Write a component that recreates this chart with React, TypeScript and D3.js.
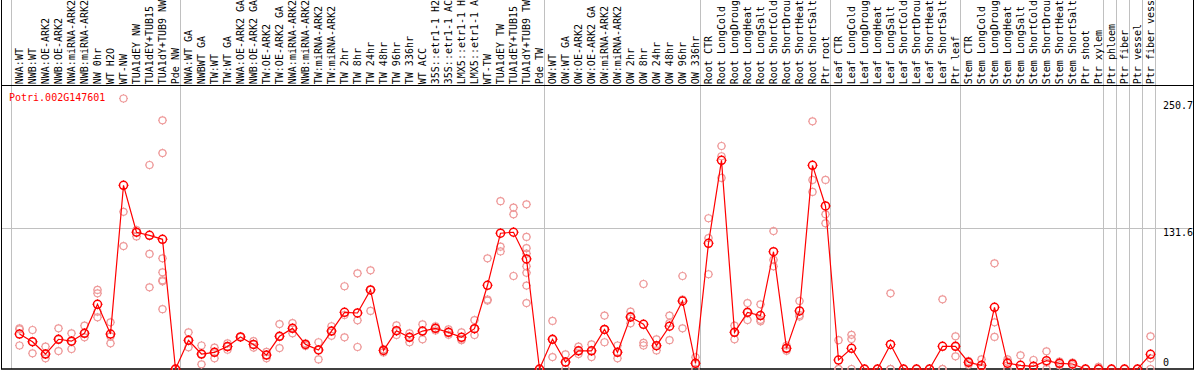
import React from 'react';
import * as d3 from 'd3';

// column labels, left to right (as far as the header shows them)
const labels = [
  'NWA:WT', 'NWB:WT', 'NWA:OE-ARK2', 'NWB:OE-ARK2', 'NWA:miRNA-ARK2', 'NWB:miRNA-ARK2',
  'NW 0hr', 'WT H2O', 'WT-NW', 'TUA1dEY NW', 'TUA1dEY+TUB15 NW', 'TUA1dY+TUB9 NW', 'Pde NW',
  'NWA:WT GA', 'NWBWT GA', 'TW:WT', 'TW:WT GA', 'NWA:OE-ARK2 GA', 'NWB:OE-ARK2 GA',
  'TW:OE-ARK2', 'TW:OE-ARK2 GA', 'NWA:miRNA-ARK2 GA', 'NWB:miRNA-ARK2 GA', 'TW:miRNA-ARK2',
  'TW:miRNA-ARK2 GA', 'TW 2hr', 'TW 8hr', 'TW 24hr', 'TW 48hr', 'TW 96hr', 'TW 336hr', 'WT ACC',
  '35S::etr1-1 H2O', '35S::etr1-1 ACC', 'LMX5::etr1-1 H2O', 'LMX5::etr1-1 ACC', 'WT-TW',
  'TUA1dEY TW', 'TUA1dEY+TUB15 TW', 'TUA1dY+TUB9 TW', 'Pde TW',
  'OW:WT', 'OW:WT GA', 'OW:OE-ARK2', 'OW:OE-ARK2 GA', 'OW:miRNA-ARK2', 'OW:miRNA-ARK2 GA',
  'OW 2hr', 'OW 8hr', 'OW 24hr', 'OW 48hr', 'OW 96hr', 'OW 336hr',
  'Root CTR', 'Root LongCold', 'Root LongDrought', 'Root LongHeat', 'Root LongSalt',
  'Root ShortCold', 'Root ShortDrought', 'Root ShortHeat', 'Root ShortSalt', 'Ptr root',
  'Leaf CTR', 'Leaf LongCold', 'Leaf LongDrought', 'Leaf LongHeat', 'Leaf LongSalt',
  'Leaf ShortCold', 'Leaf ShortDrought', 'Leaf ShortHeat', 'Leaf ShortSalt', 'Ptr leaf',
  'Stem CTR', 'Stem LongCold', 'Stem LongDrought', 'Stem LongHeat', 'Stem LongSalt',
  'Stem ShortCold', 'Stem ShortDrought', 'Stem ShortHeat', 'Stem ShortSalt', 'Ptr shoot', 'Ptr xylem',
  'Ptr phloem', 'Ptr fiber', 'Ptr vessel', 'Ptr fiber vessel',
];

// first column index of each group (a grey line is drawn before it)
const groupStarts = [0, 13, 41, 53, 63, 73, 84, 85, 86, 87, 88];

const means = [
  32.7, 25.5, 14, 27.8, 26, 33.4, 60.5, 32.7, 171.8, 127.9, 125, 121.3, 0,
  26.8, 14, 15.6, 21, 30, 23, 13, 30.6, 38, 23, 17.8, 35.5, 53, 52.4, 74, 17.4, 35.8,
  29.6, 35.5, 38, 34.3, 29.6, 37.7, 78.3, 127, 127.9, 103, 0,
  27.8, 6.5, 17, 17, 37, 15.6, 48.6, 41.8, 21.8, 40, 63.6, 5.3,
  117.6, 195.2, 34.3, 53, 50, 109.7, 19.3, 54.3, 190.5, 152.5,
  8.4, 19.3, 0, 0, 23, 0, 0, 0, 21.2, 21.2,
  6.2, 3.4, 57.7, 5.3, 3.4, 2.5, 7.8, 5.3, 4.7, 0, 0,
  0, 0, 0, 13.7,
];

const replicates = [
  [38, 37, 22], [36.5, 25.5, 14.7], [21, 14, 10], [38, 27.8, 16.8], [33.4, 26, 18.7],
  [40.5, 33.4, 29.6], [74, 70.8, 53.6, 48.3], [43.7, 30.5, 24], [253, 147, 115], [130, 124, 128],
  [190.8, 107.6, 76.4], [232.6, 202, 103.5, 90.4, 83, 82, 56], [0, 0],
  [34.3, 26.8, 20.3], [22, 14, 4.4], [20, 15.6, 10], [24, 21, 18], [30, 30, 30], [26, 23, 20],
  [16, 13, 10], [42, 30.6, 19.6], [43, 38, 33.4], [24, 23, 21.5], [25, 17.8, 9], [40, 35.5, 31],
  [77.4, 50.5, 29.6], [89.5, 45.5, 20.6], [92.3, 74, 54.3], [18.5, 17.4, 15.5], [40.8, 35.8, 31.8],
  [33.4, 29.6, 25], [41.8, 35.5, 27.8], [40, 38, 36], [37, 34.3, 32], [34.3, 27, 27.5],
  [45.8, 37.7, 31.8], [103.5, 65, 64], [157, 114.4, 110], [151, 144.7, 87],
  [154, 123.5, 113, 108, 96, 90, 78, 61.7], [0, 0],
  [45, 27.8, 11.2], [13.7, 6, 0], [21, 17, 14], [23, 17, 11.2], [50, 37, 25], [22, 15.6, 10],
  [53.6, 49.5, 42.7], [79.5, 24.5, 22], [27.8, 21.8, 17.4], [50, 43, 27], [87, 65, 38], [11, 5, 0],
  [141, 122.5, 88.6], [208.6, 199, 178.7], [40.5, 34.3, 27.8], [61.7, 53, 45.8], [60.5, 46, 44.6],
  [129, 102, 96], [22, 19.3, 17], [63.6, 50.5, 49], [231.7, 176.8, 165.6], [176.8, 144.7, 136.3],
  [27, 0, 0], [32, 28, 0], [0, 0], [0, 0], [70.8, 0, 0], [0, 0], [0, 0], [0, 0], [65.2, 0, 0],
  [30.6, 21.2, 11.9],
  [7.5, 6.2, 4], [9, 1.2, 0], [98.8, 43.7, 30], [9, 6.9, 0], [12.8, 0, 0], [8.4, 0, 0],
  [16.5, 6, 0], [7, 5.3, 3.5], [6, 4.7, 3.5], [0, 0], [2, 0, 0],
  [0, 0], [0, 0], [0, 0], [30.6, 10, 0],
];

const yTicks = [0, 131.6, 250.7];
const geneName = 'Potri.002G147601';

const W = 1194;
const H = 370;
const FONT = '"DejaVu Sans Mono", monospace';
// the header only has room for this many characters
const MAX_CHARS = 14;

function Marker({ x, y, r, color, sw }: { x: number; y: number; r: number; color: string; sw: number }) {
  const t = r + 1;
  return (
    <g stroke={color} fill="none">
      <circle cx={x} cy={y} r={r} strokeWidth={sw} />
      <path d={`M${x},${y - r}V${y - t}M${x},${y + r}V${y + t}M${x - r},${y}H${x - t}M${x + r},${y}H${x + t}`} strokeWidth={1} />
    </g>
  );
}

export default function App() {
  const idx = labels.map((_, i) => String(i));
  const x = d3.scaleBand().domain(idx).range([11, 1155]).padding(0);
  const bw = x.bandwidth();
  const cx = (i: number) => (x(String(i)) as number) + bw / 2 + 2;

  const y = d3.scaleLinear().domain([0, 131.6]).range([369, 228.3]);

  const line = d3.line<number>()
    .x((_, i) => cx(i))
    .y(d => y(d));

  const labelBase = 84.2;

  return (
    <svg width={W} height={H} style={{ display: 'block' }} fontFamily={FONT} fontSize={10}>
      <style>{`body{margin:0}`}</style>
      <rect x={0} y={0} width={W} height={H} fill="#fff" />

      {/* group separators */}
      {groupStarts.map(g => {
        const gx = g < labels.length ? (x(String(g)) as number) : 11 + bw * g;
        return <line key={g} x1={gx + 0.5} x2={gx + 0.5} y1={0} y2={369} stroke="#c0c0c0" />;
      })}

      {/* horizontal grid */}
      <line x1={1} x2={1193} y1={Math.round(y(131.6)) + 0.5} y2={Math.round(y(131.6)) + 0.5} stroke="#c0c0c0" />

      {/* frame */}
      <line x1={1.5} x2={1.5} y1={0} y2={369} stroke="#000" />
      <line x1={1193.5} x2={1193.5} y1={0} y2={369} stroke="#000" />
      <line x1={1} x2={1194} y1={85.5} y2={85.5} stroke="#000" />
      <line x1={1} x2={1194} y1={369} y2={369} stroke="#000" strokeWidth={1.5} />

      {/* column labels */}
      {labels.map((l, i) => (
        <text
          key={i}
          transform={`translate(${cx(i) + 3.5},${labelBase}) rotate(-90)`}
          fill="#000"
        >
          {l.slice(0, MAX_CHARS).trimEnd()}
        </text>
      ))}

      {/* y labels */}
      {yTicks.map(t => {
        let by = y(t) + 8;
        if (t === 0) by = 366;
        return (
          <text key={t} x={1163} y={by} fill="#000">{t === 0 ? '0' : t.toFixed(1)}</text>
        );
      })}

      <text x={9} y={101} fill="#ff0000">{geneName}</text>

      {/* replicates */}
      {replicates.map((reps, i) =>
        reps.map((v, j) => (
          <Marker key={`${i}-${j}`} x={cx(i)} y={y(v)} r={3.5} color="#ee9a9a" sw={1.2} />
        ))
      )}

      <path d={line(means) || ''} fill="none" stroke="#ff0000" strokeWidth={1.2} />

      {means.map((v, i) => (
        <Marker key={i} x={cx(i)} y={y(v)} r={4} color="#ff0000" sw={1.5} />
      ))}
    </svg>
  );
}
